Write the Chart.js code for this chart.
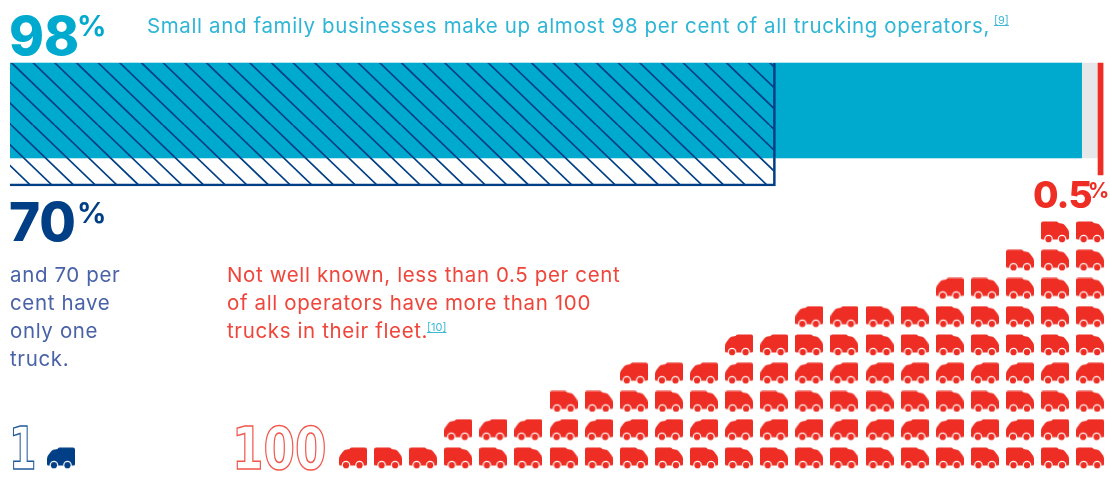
<!DOCTYPE html>
<html>
<head>
<meta charset="utf-8">
<script src="https://cdn.jsdelivr.net/npm/chart.js@4"></script>
<style>
  html, body { margin: 0; padding: 0; background: #fff; width: 1110px; height: 481px; overflow: hidden; }
  #wrap { position: relative; width: 1110px; height: 481px; }
  canvas { position: absolute; left: 0; top: 0; }
  .t { position: absolute; white-space: nowrap; font-family: Inter, sans-serif; line-height: 1; letter-spacing: .63px; font-size: 20.5px; }
  .big { position: absolute; white-space: nowrap; line-height: 1; font-family: Inter, sans-serif; font-weight: 800; }
  .pct { position: absolute; white-space: nowrap; font-family: Inter, sans-serif; font-weight: 700; line-height: 1; }
  .ref { position: absolute; font-family: Inter, sans-serif; font-size: 11px; line-height: 1; color: #3fb8d8; text-decoration: underline; white-space: nowrap; }
  .outline { position: absolute; font-family: "DejaVu Sans", sans-serif; font-weight: 700; line-height: 1; color: #fff; white-space: nowrap; transform-origin: 0 0; }
</style>
</head>
<body>
<div id="wrap">
  <canvas id="c" width="1110" height="481"></canvas>

  <div class="big" style="left:9px;top:10px;font-size:53px;color:#00a9ce">98</div>
  <div class="pct" style="left:77px;top:11px;font-size:29px;color:#00a9ce">%</div>
  <div class="t" style="left:147px;top:16px;color:#2fb5d6">Small and family businesses make up almost 98 per cent of all trucking operators,</div>
  <div class="ref" style="left:994px;top:15px">[9]</div>

  <div class="big" style="left:9px;top:196px;font-size:53px;color:#003e85">70</div>
  <div class="pct" style="left:77px;top:198px;font-size:29px;color:#003e85">%</div>

  <div class="t" style="left:10px;top:265px;color:#4a62a8">and 70 per</div>
  <div class="t" style="left:10px;top:293px;color:#4a62a8">cent have</div>
  <div class="t" style="left:10px;top:321px;color:#4a62a8">only one</div>
  <div class="t" style="left:10px;top:349px;color:#4a62a8">truck.</div>

  <div class="t" style="left:227px;top:265px;color:#f0453a">Not well known, less than 0.5 per cent</div>
  <div class="t" style="left:227px;top:293px;color:#f0453a">of all operators have more than 100</div>
  <div class="t" style="left:227px;top:321px;color:#f0453a">trucks in their fleet.</div>
  <div class="ref" style="left:427px;top:322px">[10]</div>

  <div class="big" style="left:1033px;top:176px;font-size:37px;letter-spacing:-1px;color:#ee2e24">0.5</div>
  <div class="pct" style="left:1088px;top:180px;font-size:21px;color:#ee2e24">%</div>

  <div class="outline" style="left:9px;top:420px;font-size:58px;-webkit-text-stroke:1.5px #1f5a9a;transform:scaleX(.68)">1</div>
  <div class="outline" style="left:232px;top:420px;font-size:58px;-webkit-text-stroke:1.5px #f2574e;transform:scaleX(.78)">100</div>
</div>

<script>
// Share of all trucking operators, in per cent
const smallFamilyShare = 98;
const singleTruckShare = 70;
const largeFleetShare = 0.5;

// Number of trucks stacked in each column of the fleet pictogram, left to right
const fleetColumnHeights = [1, 1, 1, 2, 2, 2, 3, 3, 4, 4, 4, 5, 5, 6, 6, 6, 6, 7, 7, 8, 9, 9];
// For each row from the bottom, how many of its leading trucks point left
const leftFacingPerRow = [1, 22, 0, 22, 2, 2, 1, 0, 0];

const TEAL = '#00a9ce', NAVY = '#003e85', RED = '#ee2e24', GREY = '#e6e7e8';

// Diagonal hatch tile for the one-truck operators bar: six lines per tile
function hatchPattern(lineColor) {
  const tile = document.createElement('canvas');
  tile.width = 130;
  tile.height = 125;
  const g = tile.getContext('2d');
  g.strokeStyle = lineColor;
  g.lineWidth = 1.7;
  for (let k = -12; k <= 12; k++) {
    const off = 11.2 + k * (130 / 6);
    g.beginPath();
    g.moveTo(off, 0);
    g.lineTo(off + 130, 125);
    g.stroke();
  }
  return g.createPattern(tile, 'repeat');
}

// Small truck glyph used as the point style
function truckIcon(color, faceLeft) {
  const w = 28, h = 22;
  const s = document.createElement('canvas');
  s.width = w; s.height = h;
  const g = s.getContext('2d');
  if (faceLeft) { g.translate(w, 0); g.scale(-1, 1); }
  g.fillStyle = color;
  g.beginPath();
  g.moveTo(2, 0.5);
  g.lineTo(15.5, 0.5);
  g.quadraticCurveTo(17, 0.5, 17.5, 2);
  g.lineTo(20.5, 2.5);
  g.quadraticCurveTo(22.5, 2.5, 24, 4.5);
  g.lineTo(27, 8.5);
  g.quadraticCurveTo(28, 10, 28, 12);
  g.lineTo(28, 17);
  g.quadraticCurveTo(28, 18.5, 26.5, 18.5);
  g.lineTo(1.5, 18.5);
  g.quadraticCurveTo(0, 18.5, 0, 17);
  g.lineTo(0, 2.5);
  g.quadraticCurveTo(0, 0.5, 2, 0.5);
  g.closePath();
  g.fill();
  // wheels: white ring, coloured hub
  for (const cx of [7.5, 21]) {
    g.fillStyle = '#fff';
    g.beginPath(); g.arc(cx, 18, 4.3, 0, Math.PI * 2); g.fill();
    g.fillStyle = color;
    g.beginPath(); g.arc(cx, 18.2, 3.1, 0, Math.PI * 2); g.fill();
  }
  return s;
}

const redRight = truckIcon(RED, false);
const redLeft = truckIcon(RED, true);
const navyLeft = truckIcon(NAVY, true);

// Expand the column heights into one point per truck
const fleetPoints = [];
const seenInRow = leftFacingPerRow.map(() => 0);
fleetColumnHeights.forEach((height, i) => {
  for (let row = 1; row <= height; row++) {
    const left = seenInRow[row - 1] < leftFacingPerRow[row - 1];
    seenInRow[row - 1]++;
    fleetPoints.push({ x: i + 1, y: row, left });
  }
});

// Band depth runs down the chart in page pixels, so bars share one top edge
const barTop = 63;
const band = (depth) => barTop + depth / 2;

new Chart(document.getElementById('c'), {
  type: 'bar',
  data: {
    datasets: [
      { indexAxis: 'y', grouped: false, order: 4, xAxisID: 'x', yAxisID: 'y', barThickness: 95,
        backgroundColor: GREY, data: [{ x: [0, 100 - largeFleetShare], y: band(95) }] },
      { indexAxis: 'y', grouped: false, order: 3, xAxisID: 'x', yAxisID: 'y', barThickness: 95,
        backgroundColor: TEAL, data: [{ x: [0, smallFamilyShare], y: band(95) }] },
      { indexAxis: 'y', grouped: false, order: 2, xAxisID: 'x', yAxisID: 'y', barThickness: 112,
        backgroundColor: RED, data: [{ x: [100 - largeFleetShare, 100], y: band(112) }] },
      { indexAxis: 'y', grouped: false, order: 1, xAxisID: 'x', yAxisID: 'y', barThickness: 123,
        backgroundColor: hatchPattern(NAVY), borderColor: NAVY,
        borderWidth: { right: 2, bottom: 2 }, borderSkipped: false,
        data: [{ x: [0, singleTruckShare], y: band(123) }] },
      { type: 'scatter', order: 0, xAxisID: 'gx', yAxisID: 'gy', clip: false,
        pointStyle: (ctx) => ctx.raw && ctx.raw.left ? redLeft : redRight,
        data: fleetPoints },
      { type: 'scatter', order: 0, xAxisID: 'gx', yAxisID: 'gy', clip: false,
        pointStyle: navyLeft, data: [{ x: -7.32, y: 1 }] }
    ]
  },
  options: {
    responsive: false,
    animation: false,
    events: [],
    layout: { autoPadding: false, padding: { left: 10, right: 6.5, top: 0, bottom: 0 } },
    plugins: { legend: { display: false }, tooltip: { enabled: false } },
    scales: {
      x: { type: 'linear', display: false, offset: false, min: 0, max: 100 },
      y: { type: 'linear', display: false, offset: false, reverse: true, min: 0, max: 481 },
      gx: { type: 'linear', axis: 'x', display: false, offset: false, min: -8.77, max: 22.38 },
      gy: { type: 'linear', axis: 'y', display: false, offset: false, min: 0.186, max: 17.21 }
    }
  }
});
</script>
</body>
</html>
